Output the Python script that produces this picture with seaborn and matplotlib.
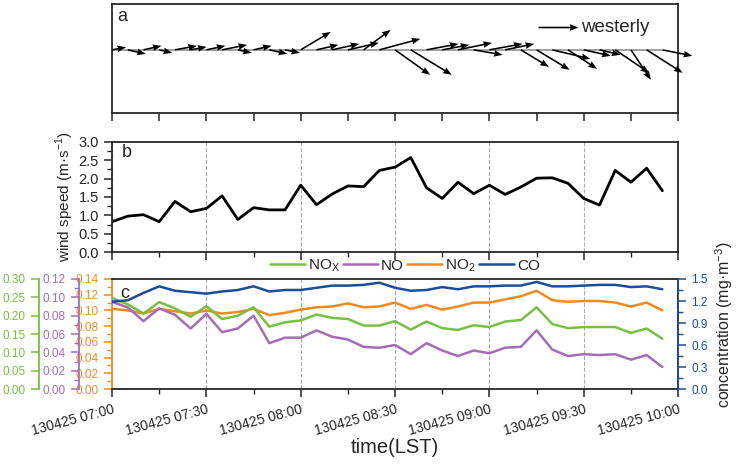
import numpy as np
import pandas as pd
import seaborn as sns
import matplotlib.pyplot as plt
import matplotlib.dates as mdates
from matplotlib.ticker import MultipleLocator, NullFormatter

sns.set_style("ticks")
plt.rcParams['font.family'] = ['Liberation Sans', 'DejaVu Sans']
plt.rcParams['mathtext.fontset'] = 'custom'
plt.rcParams['mathtext.rm'] = 'Liberation Sans'

# 5-minute observations, 130425 07:00 - 09:55
times = pd.date_range("2013-04-25 07:00", periods=36, freq="5min")

# wind components (m/s) for the stick plot
u_wind = [0.70, 0.90, 0.90, 0.65, 1.10, 0.80, 0.95, 1.25, 0.70, 0.90, 0.90, 0.75,
          1.50, 1.10, 1.35, 1.55, 1.35, 2.05, 1.75, 2.05, 1.60, 1.35, 1.70, 1.45,
          1.65, 1.45, 1.40, 1.65, 1.90, 1.45, 1.35, 1.05, 1.70, 1.00, 1.80, 1.50]
v_wind = [0.13, -0.20, 0.20, -0.15, 0.20, 0.15, 0.20, 0.25, -0.15, 0.20, -0.20, -0.15,
          0.90, 0.25, 0.30, 0.35, 1.00, 0.55, -1.25, -1.25, 0.30, 0.25, 0.35, -0.25,
          0.30, 0.30, -0.85, -1.00, -0.45, -0.95, -0.30, -0.25, -1.15, -1.50, -1.15, -0.30]

wind_speed = [0.83, 0.98, 1.02, 0.83, 1.38, 1.10, 1.19, 1.53, 0.89, 1.21, 1.15, 1.15,
              1.82, 1.29, 1.58, 1.80, 1.78, 2.22, 2.31, 2.57, 1.75, 1.46, 1.90, 1.59,
              1.82, 1.57, 1.77, 2.01, 2.02, 1.87, 1.46, 1.28, 2.22, 1.90, 2.28, 1.67]

nox = [0.248, 0.231, 0.206, 0.237, 0.220, 0.197, 0.226, 0.191, 0.200, 0.223, 0.170, 0.182,
       0.187, 0.203, 0.194, 0.191, 0.173, 0.173, 0.185, 0.162, 0.184, 0.166, 0.161, 0.174,
       0.169, 0.184, 0.188, 0.223, 0.177, 0.166, 0.169, 0.169, 0.169, 0.153, 0.165, 0.137]
no = [0.095, 0.089, 0.074, 0.088, 0.081, 0.066, 0.082, 0.062, 0.066, 0.080, 0.050, 0.056,
      0.056, 0.064, 0.057, 0.054, 0.046, 0.045, 0.048, 0.038, 0.050, 0.042, 0.036, 0.042,
      0.039, 0.045, 0.046, 0.064, 0.043, 0.036, 0.038, 0.037, 0.038, 0.032, 0.037, 0.024]
no2 = [0.102, 0.100, 0.096, 0.102, 0.099, 0.096, 0.100, 0.096, 0.098, 0.102, 0.094, 0.097,
       0.101, 0.104, 0.105, 0.109, 0.104, 0.105, 0.110, 0.102, 0.107, 0.101, 0.105, 0.110,
       0.110, 0.114, 0.118, 0.125, 0.113, 0.111, 0.112, 0.112, 0.110, 0.105, 0.110, 0.100]
co = [1.19, 1.21, 1.31, 1.40, 1.34, 1.32, 1.30, 1.33, 1.35, 1.40, 1.33, 1.35,
      1.35, 1.38, 1.41, 1.41, 1.42, 1.45, 1.38, 1.34, 1.35, 1.39, 1.36, 1.40,
      1.40, 1.41, 1.41, 1.46, 1.40, 1.40, 1.41, 1.42, 1.42, 1.39, 1.40, 1.36]

c_nox, c_no, c_no2, c_co = '#77C043', '#A66DB7', '#F28A1E', '#1B4D9B'

t0 = pd.Timestamp("2013-04-25 07:00")
t1 = pd.Timestamp("2013-04-25 10:00")
major_t = pd.date_range(t0, t1, freq="30min")
minor_t = pd.date_range(t0 + pd.Timedelta("15min"), t1, freq="30min")
quarter_t = pd.date_range(t0, t1, freq="15min")
time_labels = [t.strftime('%y%m%d %H:%M') for t in major_t]

fig = plt.figure(figsize=(7.39, 4.72), dpi=100)
left, width = 0.1516, 0.766
ax_a = fig.add_axes([left, 0.760, width, 0.231])
ax_b = fig.add_axes([left, 0.4655, width, 0.2343])
ax_c = fig.add_axes([left, 0.1758, width, 0.2331])

for ax in (ax_a, ax_b, ax_c):
    for s in ax.spines.values():
        s.set_linewidth(1.3)
    ax.tick_params(which='major', length=6, width=1.1)
    ax.tick_params(which='minor', length=3.5, width=1.0)

# ---- a: wind sticks
xa = mdates.date2num(times)
ax_a.hlines(0, xa[0], xa[-1], color='#9a9a9a', lw=1.3, zorder=1)
q = ax_a.quiver(xa, np.zeros(len(xa)), u_wind, v_wind, units='dots', width=1.6,
                scale_units='inches', scale=5, headwidth=4.2, headlength=5.5,
                headaxislength=5, color='k', zorder=3)
q.set_clip_on(False)
ax_a.quiverkey(q, 0.823, 0.79, 2, 'westerly', labelpos='E', coordinates='axes',
               labelsep=0.03, fontproperties={'size': 13.5})
ax_a.set_xlim(mdates.date2num(t0), mdates.date2num(t1))
ax_a.set_ylim(-64, 46)
ax_a.set_xticks(mdates.date2num(quarter_t))
ax_a.xaxis.set_major_formatter(NullFormatter())
ax_a.set_yticks([])
ax_a.text(0.01, 0.97, 'a', transform=ax_a.transAxes, fontsize=13, va='top')

# ---- b: wind speed
sns.lineplot(x=times, y=wind_speed, ax=ax_b, color='k', lw=2.0)
ax_b.set_xlim(t0, t1)
ax_b.set_ylim(0, 3)
ax_b.yaxis.set_major_locator(MultipleLocator(0.5))
ax_b.yaxis.set_minor_locator(MultipleLocator(0.25))
ax_b.yaxis.set_major_formatter(plt.FormatStrFormatter('%.1f'))
ax_b.set_xticks(major_t, [''] * len(major_t))
ax_b.set_xticks(minor_t, minor=True)
ax_b.grid(axis='x', which='major', ls='--', color='#aaaaaa', lw=0.8)
ax_b.tick_params(axis='y', labelsize=10.5)
ax_b.set_xlabel('')
ax_b.set_ylabel('wind speed (m·s$^{\\mathregular{-1}}$)', fontsize=11, labelpad=2)
ax_b.text(0.018, 0.90, 'b', transform=ax_b.transAxes, fontsize=13, va='center')

# ---- c: pollutants
sns.lineplot(x=times, y=no2, ax=ax_c, color=c_no2, lw=1.8, label='NO$_\\mathregular{2}$', legend=False)
ax_no = ax_c.twinx()
ax_nox = ax_c.twinx()
ax_co = ax_c.twinx()
sns.lineplot(x=times, y=nox, ax=ax_nox, color=c_nox, lw=1.8, label='NO$_\\mathregular{X}$', legend=False)
sns.lineplot(x=times, y=no, ax=ax_no, color=c_no, lw=1.8, label='NO', legend=False)
sns.lineplot(x=times, y=co, ax=ax_co, color=c_co, lw=1.8, label='CO', legend=False)

ax_c.set_xlim(t0, t1)
ax_c.set_ylim(0, 0.14)
ax_c.yaxis.set_major_locator(MultipleLocator(0.02))
ax_c.yaxis.set_minor_locator(MultipleLocator(0.01))
ax_c.yaxis.set_major_formatter(plt.FormatStrFormatter('%.2f'))
ax_c.spines['left'].set_color(c_no2)
ax_c.tick_params(axis='y', which='both', colors=c_no2, labelsize=8.5)
ax_c.set_xticks(major_t, time_labels, rotation=15, ha='right', va='top',
                rotation_mode='anchor', fontsize=10)
ax_c.set_xticks(minor_t, minor=True)
ax_c.grid(axis='x', which='major', ls='--', color='#aaaaaa', lw=0.8)
ax_c.set_xlabel('time(LST)', fontsize=14.5, labelpad=0)
ax_c.set_ylabel('')

for tw, off, col, top, step, minor in [(ax_no, 23.8, c_no, 0.12, 0.02, 0.01),
                                       (ax_nox, 52.6, c_nox, 0.30, 0.05, None)]:
    for s in ('right', 'top', 'bottom'):
        tw.spines[s].set_visible(False)
    tw.spines['left'].set_visible(True)
    tw.spines['left'].set_position(('outward', off))
    tw.spines['left'].set_color(col)
    tw.spines['left'].set_linewidth(1.3)
    tw.yaxis.set_ticks_position('left')
    tw.yaxis.set_label_position('left')
    tw.set_ylim(0, top)
    tw.yaxis.set_major_locator(MultipleLocator(step))
    if minor:
        tw.yaxis.set_minor_locator(MultipleLocator(minor))
    tw.yaxis.set_major_formatter(plt.FormatStrFormatter('%.2f'))
    tw.tick_params(axis='y', which='both', colors=col, labelsize=8.5)
    tw.tick_params(which='major', length=6, width=1.1)
    tw.tick_params(which='minor', length=3.5, width=1.0)
    tw.set_ylabel('')

for s in ('left', 'top', 'bottom'):
    ax_co.spines[s].set_visible(False)
ax_co.spines['right'].set_color(c_co)
ax_co.spines['right'].set_linewidth(1.3)
ax_co.set_ylim(0, 1.5)
ax_co.yaxis.set_major_locator(MultipleLocator(0.3))
ax_co.yaxis.set_minor_locator(MultipleLocator(0.15))
ax_co.yaxis.set_major_formatter(plt.FormatStrFormatter('%.1f'))
ax_co.tick_params(axis='y', which='both', colors=c_co, labelsize=8.5)
ax_co.tick_params(which='major', length=6, width=1.1)
ax_co.tick_params(which='minor', length=3.5, width=1.0)
ax_co.set_ylabel('concentration (mg·m$^{\\mathregular{-3}}$)', fontsize=11.5)
ax_co.yaxis.set_label_coords(1.063, 0.58)
ax_co.text(0.023, 0.87, 'c', transform=ax_co.transAxes, fontsize=13, va='center', ha='center')

handles, labels = [], []
for ax in (ax_nox, ax_no, ax_c, ax_co):
    h, l = ax.get_legend_handles_labels()
    handles += h
    labels += l
ax_co.legend(handles, labels, loc='center', bbox_to_anchor=(0.517, 1.118), ncol=4,
             frameon=False, fontsize=11, handlelength=2.3, handletextpad=0.2,
             columnspacing=0.2, borderaxespad=0)

fig.savefig('out.png', dpi=100)
